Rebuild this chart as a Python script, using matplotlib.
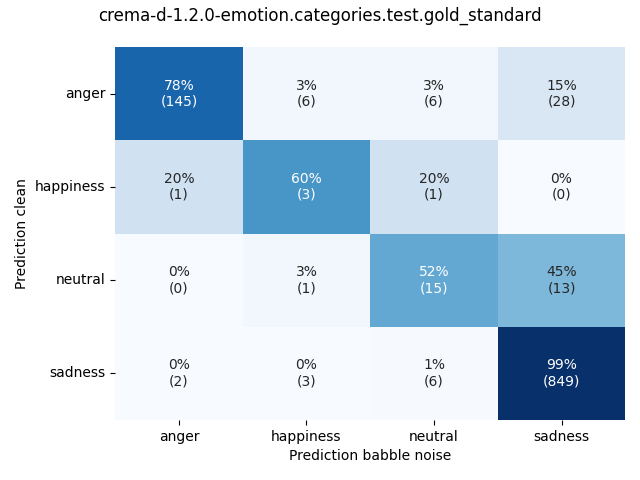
import numpy as np
import matplotlib
matplotlib.use("Agg")
import matplotlib.pyplot as plt
import seaborn as sns

labels = ["anger", "happiness", "neutral", "sadness"]
counts = np.array([
    [145, 6, 6, 28],
    [1, 3, 1, 0],
    [0, 1, 15, 13],
    [2, 3, 6, 849],
])
title = "crema-d-1.2.0-emotion.categories.test.gold_standard"

pct = counts / counts.sum(axis=1, keepdims=True)
annot = np.array([[f"{pct[i, j]*100:.0f}%\n({counts[i, j]})" for j in range(4)] for i in range(4)])

fig, ax = plt.subplots(figsize=(6.4, 4.8), dpi=100)
sns.heatmap(pct, annot=annot, fmt="", cmap="Blues", cbar=False,
            xticklabels=labels, yticklabels=labels, ax=ax)
ax.set_xlabel("Prediction babble noise")
ax.set_ylabel("Prediction clean")
fig.suptitle(title, fontsize=12, x=0.5, y=0.985)
ax.tick_params(axis="y", rotation=0)
ax.tick_params(axis="x", rotation=0)
fig.subplots_adjust(left=0.18, right=0.977, top=0.902, bottom=0.125)
fig.savefig("out.png", dpi=100)
